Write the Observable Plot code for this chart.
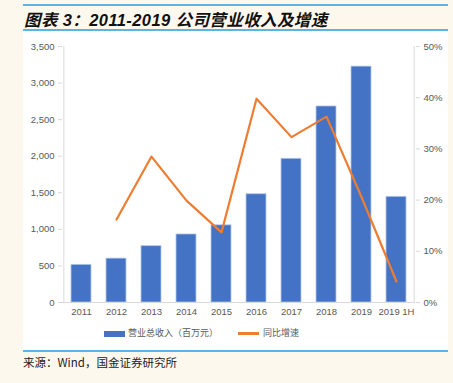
<!DOCTYPE html>
<html><head><meta charset="utf-8">
<script src="https://cdn.jsdelivr.net/npm/d3@7"></script>
<script src="https://cdn.jsdelivr.net/npm/@observablehq/plot@0.6"></script>
<style>
html,body{margin:0;padding:0;background:#fdf8ee;}
#wrap{position:relative;width:453px;height:383px;background:#fdf8ee;overflow:hidden;font-family:"Liberation Sans","Noto Sans CJK SC",sans-serif;}
.bl{position:absolute;left:23px;width:425px;height:2px;background:#5bb4e2;}
#title{position:absolute;left:24px;top:7px;font-size:16.5px;letter-spacing:0.4px;font-weight:bold;font-style:italic;color:#111;font-family:"Liberation Sans","Noto Sans CJK SC",sans-serif;white-space:nowrap;}
#panel{position:absolute;left:23px;top:31px;width:425px;height:319px;background:#fff;}
#chart{position:absolute;left:0;top:36px;}
#legend{position:absolute;top:326px;left:104px;font-size:9px;color:#595959;font-family:"Noto Sans CJK SC",sans-serif;white-space:nowrap;}
#legend span.sw{display:inline-block;vertical-align:middle;}
#source{position:absolute;left:23px;top:354px;font-size:11.5px;color:#222;font-family:"Noto Sans CJK SC",sans-serif;white-space:nowrap;}
</style></head>
<body><div id="wrap">
<div class="bl" style="top:4px"></div>
<div id="title">图表 3：2011-2019 公司营业收入及增速</div>
<div class="bl" style="top:29px"></div>
<div id="panel"></div>
<div id="chart"></div>
<div id="legend"><span class="sw" style="width:21px;height:6px;background:#4472c4;margin-right:3px"></span>营业总收入（百万元）<span class="sw" style="width:21px;height:2.5px;background:#ed7d31;margin-left:20px;margin-right:4px"></span>同比增速</div>
<div class="bl" style="top:350px"></div>
<div id="source">来源：Wind，国金证券研究所</div>
</div>
<script>
const categories = ["2011","2012","2013","2014","2015","2016","2017","2018","2019","2019 1H"];
const revenue = [515, 600, 770, 930, 1055, 1480, 1965, 2680, 3225, 1445];
const growth = [null, 16.2, 28.5, 19.9, 13.7, 39.8, 32.3, 36.3, 20.6, 4.1];
const leftTicks = [0,500,1000,1500,2000,2500,3000,3500];
const rightTicks = [0,10,20,30,40,50];

const yMax = 3500, pMax = 50;
const k = yMax / pMax;
const bars = categories.map((c,i)=>({cat:c, v:revenue[i]}));
const line = categories.map((c,i)=>({cat:c, p:growth[i]})).filter(d=>d.p!=null);
const W = 453, mL = 62, mR = 38;
const half = (W - mL - mR) / categories.length / 2;

const plot = Plot.plot({
  width: W, height: 290,
  marginTop: 10, marginBottom: 24, marginLeft: mL, marginRight: mR,
  style: {fontFamily: "Liberation Sans, sans-serif", fontSize: "9.5px", color: "#595959", background: "transparent"},
  x: {domain: categories, paddingInner: 0.43, paddingOuter: 0.215, label: null},
  y: {domain: [0, yMax], label: null},
  marks: [
    Plot.barY(bars, {x:"cat", y:"v", fill:"#4472c4", stroke:"#b4c7e7", strokeWidth:0.8}),
    Plot.line(line, {x:"cat", y: d=>d.p*k, stroke:"#ed7d31", strokeWidth:2.2}),
    Plot.ruleY([0], {stroke:"#d9d9d9", strokeWidth:1}),
    Plot.ruleX([categories[0]], {x: d=>d, dx: -half, y1:0, y2:yMax, stroke:"#d9d9d9"}),
    Plot.ruleX([categories[categories.length-1]], {x: d=>d, dx: half, y1:0, y2:yMax, stroke:"#d9d9d9"}),
    Plot.axisX({tickSize:0, tickPadding:6, label:null, fill:"#595959"}),
    Plot.axisY({ticks: leftTicks, tickFormat: d3.format(","), tickSize:4, stroke:"#d9d9d9", label:null, tickPadding:4, fill:"#595959"}),
    Plot.axisY({anchor:"right", ticks: rightTicks.map(t=>t*k), tickFormat: d=>Math.round(d/k)+"%", tickSize:4, stroke:"#d9d9d9", label:null, tickPadding:4, fill:"#595959"})
  ]
});
document.getElementById("chart").appendChild(plot);
</script>
</body></html>
